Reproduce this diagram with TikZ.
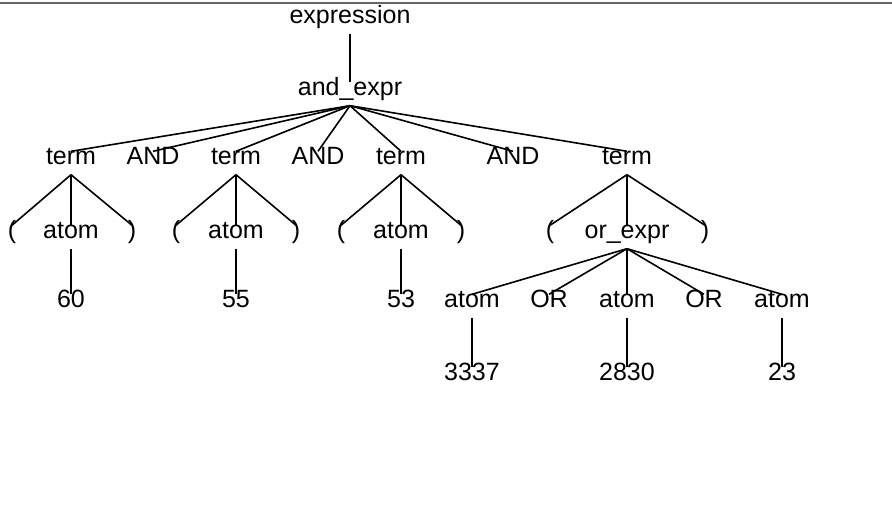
\documentclass[tikz,border=0pt]{standalone}
\usepackage{fontspec}
\setmainfont{Liberation Sans}
\begin{document}
\begin{tikzpicture}[x=1pt,y=-1pt,
  n/.style={inner sep=2pt,text height=11pt,text depth=8pt,font=\fontsize{25}{28}\selectfont},
  e/.style={line width=1.6pt}]
\useasboundingbox (0,0) rectangle (892,530);
\draw[line width=2pt,gray!80!black] (0,3) -- (892,3);
\node[n] (ex) at (350,22) {expression};
\node[n] (ae) at (350,94) {and\_expr};
\node[n] (t1) at (71,163) {term};
\node[n] (a1) at (153,163) {AND};
\node[n] (t2) at (236,163) {term};
\node[n] (a2) at (318,163) {AND};
\node[n] (t3) at (401,163) {term};
\node[n] (a3) at (513,163) {AND};
\node[n] (t4) at (627,163) {term};
\node[n] (l1) at (12,237) {(};
\node[n] (m1) at (71,237) {atom};
\node[n] (r1) at (132,237) {)};
\node[n] (l2) at (176,237) {(};
\node[n] (m2) at (236,237) {atom};
\node[n] (r2) at (296,237) {)};
\node[n] (l3) at (341,237) {(};
\node[n] (m3) at (401,237) {atom};
\node[n] (r3) at (461,237) {)};
\node[n] (l4) at (550,237) {(};
\node[n] (oe) at (627,237) {or\_expr};
\node[n] (r4) at (705,237) {)};
\node[n] (v1) at (71,306) {60};
\node[n] (v2) at (236,306) {55};
\node[n] (v3) at (401,306) {53};
\node[n] (b1) at (472,306) {atom};
\node[n] (o1) at (549,306) {OR};
\node[n] (b2) at (627,306) {atom};
\node[n] (o2) at (704,306) {OR};
\node[n] (b3) at (782,306) {atom};
\node[n] (w1) at (472,379) {3337};
\node[n] (w2) at (627,379) {2830};
\node[n] (w3) at (782,379) {23};
\draw[e] (ex.south) -- (ae.north);
\foreach \c in {t1,a1,t2,a2,t3,a3,t4} \draw[e] (ae.south) -- (\c.north);
\foreach \p/\a/\b/\d in {t1/l1/m1/r1,t2/l2/m2/r2,t3/l3/m3/r3,t4/l4/oe/r4}
  \foreach \c in {\a,\b,\d} \draw[e] (\p.south) -- (\c.north);
\draw[e] (m1.south) -- (v1.north);
\draw[e] (m2.south) -- (v2.north);
\draw[e] (m3.south) -- (v3.north);
\foreach \c in {b1,o1,b2,o2,b3} \draw[e] (oe.south) -- (\c.north);
\draw[e] (b1.south) -- (w1.north);
\draw[e] (b2.south) -- (w2.north);
\draw[e] (b3.south) -- (w3.north);
\end{tikzpicture}
\end{document}
